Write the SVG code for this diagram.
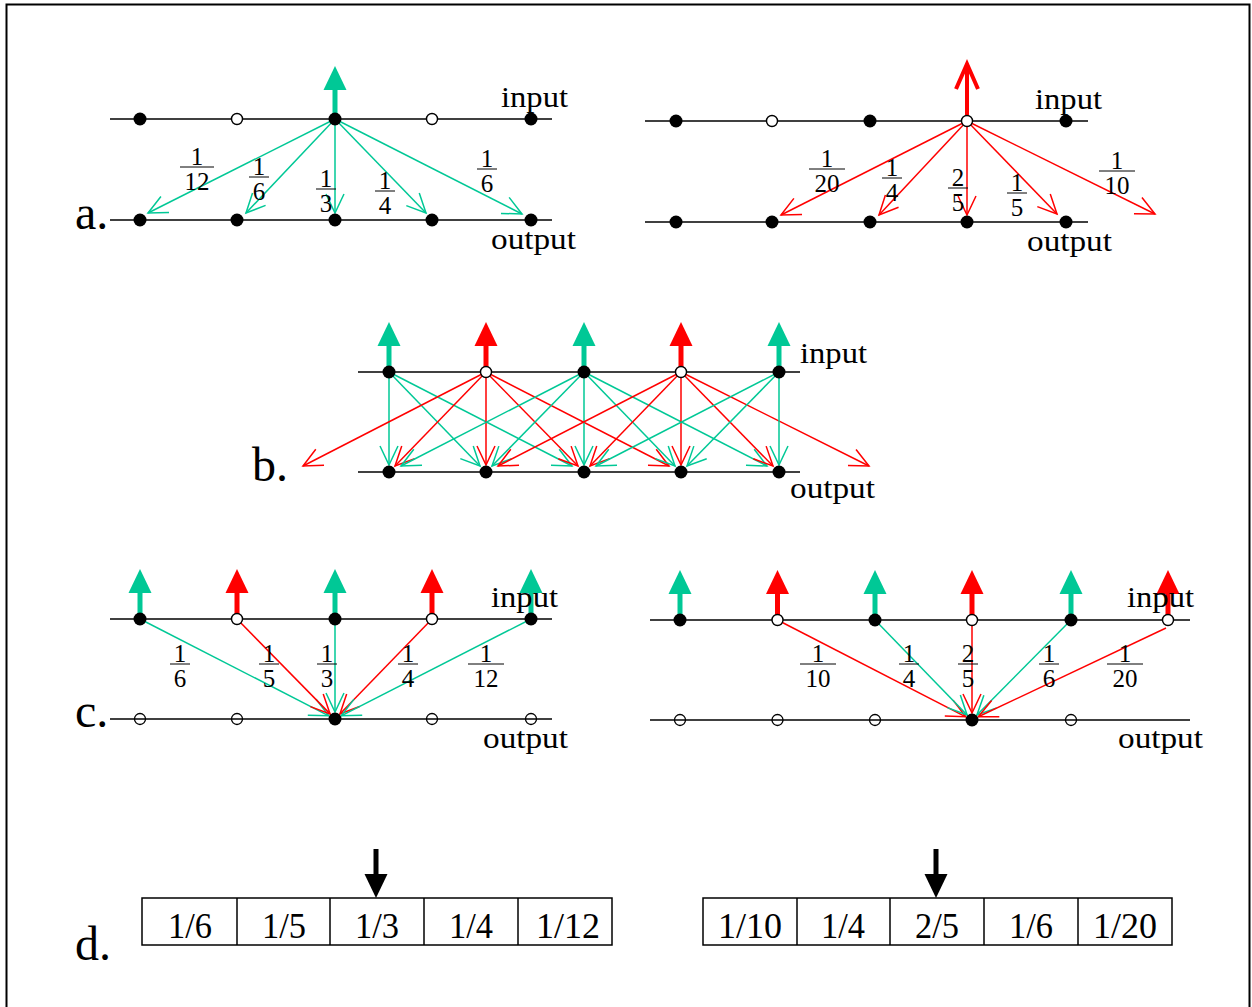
<svg xmlns="http://www.w3.org/2000/svg" width="1252" height="1007" viewBox="0 0 1252 1007">
<style>
.ax{stroke:#000;stroke-width:1.5;fill:none}
.f{fill:#000}
.o{fill:#fff;stroke:#000;stroke-width:1.4}
.on{fill:none;stroke:#000;stroke-width:1.3}
.g{stroke:#00c896;stroke-width:1.5;fill:none;marker-end:url(#vg)}
.r{stroke:#ff0000;stroke-width:1.5;fill:none;marker-end:url(#vr)}
.tg{stroke:#00c896;stroke-width:5;marker-end:url(#hg)}
.tr{stroke:#ff0000;stroke-width:5;marker-end:url(#hr)}
.tk{stroke:#000;stroke-width:5;marker-end:url(#hk)}
text{font-family:"Liberation Serif","Times New Roman",serif;fill:#000}
.fr{font-size:25px;text-anchor:middle}
.lb{font-size:29px}
.sec{font-size:48px}
.cell{font-size:36px;text-anchor:middle}
.bar{stroke:#000;stroke-width:1}
</style>
<defs>
<marker id="vg" markerUnits="userSpaceOnUse" viewBox="-24 -12 26 24" refX="0" refY="0" markerWidth="26" markerHeight="24" orient="auto" overflow="visible"><path d="M-19,-9 L0,0 L-19,9" fill="none" stroke="#00c896" stroke-width="1.5"/></marker>
<marker id="vr" markerUnits="userSpaceOnUse" viewBox="-24 -12 26 24" refX="0" refY="0" markerWidth="26" markerHeight="24" orient="auto" overflow="visible"><path d="M-19,-9 L0,0 L-19,9" fill="none" stroke="#ff0000" stroke-width="1.5"/></marker>
<marker id="hg" markerUnits="userSpaceOnUse" viewBox="0 -12 24 24" refX="0" refY="0" markerWidth="24" markerHeight="24" orient="auto" overflow="visible"><path d="M0,-11.5 L24,0 L0,11.5 Z" fill="#00c896"/></marker>
<marker id="hr" markerUnits="userSpaceOnUse" viewBox="0 -12 24 24" refX="0" refY="0" markerWidth="24" markerHeight="24" orient="auto" overflow="visible"><path d="M0,-11.5 L24,0 L0,11.5 Z" fill="#ff0000"/></marker>
<marker id="hk" markerUnits="userSpaceOnUse" viewBox="0 -12 24 24" refX="0" refY="0" markerWidth="24" markerHeight="24" orient="auto" overflow="visible"><path d="M0,-11.5 L24,0 L0,11.5 Z" fill="#000"/></marker>
<marker id="or" markerUnits="userSpaceOnUse" viewBox="-30 -15 32 30" refX="0" refY="0" markerWidth="32" markerHeight="30" orient="auto" overflow="visible"><path d="M-25,-11 L0,0 L-25,11" fill="none" stroke="#ff0000" stroke-width="4"/></marker>
</defs>

<rect x="6.5" y="4.5" width="1243" height="1010" fill="none" stroke="#000" stroke-width="2"/>

<g id="section-labels">
<text class="sec" x="75" y="229">a.</text>
<text class="sec" x="252" y="481">b.</text>
<text class="sec" x="75" y="727">c.</text>
<text class="sec" x="75" y="960">d.</text>
</g>

<g id="axes">
<line class="ax" x1="110" y1="119" x2="552" y2="119"/>
<line class="ax" x1="110" y1="220" x2="552" y2="220"/>
<line class="ax" x1="645" y1="121" x2="1088" y2="121"/>
<line class="ax" x1="645" y1="222" x2="1088" y2="222"/>
<line class="ax" x1="358" y1="372" x2="800" y2="372"/>
<line class="ax" x1="358" y1="472" x2="800" y2="472"/>
<line class="ax" x1="110" y1="619" x2="552" y2="619"/>
<line class="ax" x1="110" y1="719" x2="552" y2="719"/>
<line class="ax" x1="650" y1="620" x2="1190" y2="620"/>
<line class="ax" x1="650" y1="720" x2="1190" y2="720"/>
</g>

<g id="connectors">
<line class="tg" x1="335" y1="119" x2="335" y2="90"/>
<line class="g" x1="335" y1="119" x2="148" y2="213"/>
<line class="g" x1="335" y1="119" x2="246" y2="213"/>
<line class="g" x1="335" y1="119" x2="335" y2="213"/>
<line class="g" x1="335" y1="119" x2="426" y2="213"/>
<line class="g" x1="335" y1="119" x2="522" y2="214"/>
<line stroke="#ff0000" stroke-width="4" x1="967" y1="121" x2="967" y2="64" marker-end="url(#or)"/>
<line class="r" x1="967" y1="121" x2="781" y2="215"/>
<line class="r" x1="967" y1="121" x2="879" y2="215"/>
<line class="r" x1="967" y1="121" x2="967" y2="215"/>
<line class="r" x1="967" y1="121" x2="1057" y2="214"/>
<line class="r" x1="967" y1="121" x2="1155" y2="214"/>
<line class="tg" x1="389" y1="372" x2="389" y2="346"/>
<line class="tr" x1="486" y1="372" x2="486" y2="346"/>
<line class="tg" x1="584" y1="372" x2="584" y2="346"/>
<line class="tr" x1="681" y1="372" x2="681" y2="346"/>
<line class="tg" x1="779" y1="372" x2="779" y2="346"/>
<line class="g" x1="389" y1="372" x2="389" y2="465"/>
<line class="g" x1="389" y1="372" x2="480" y2="466"/>
<line class="g" x1="389" y1="372" x2="572" y2="466"/>
<line class="r" x1="486" y1="372" x2="303" y2="466"/>
<line class="r" x1="486" y1="372" x2="395" y2="466"/>
<line class="r" x1="486" y1="372" x2="486" y2="465"/>
<line class="r" x1="486" y1="372" x2="578" y2="466"/>
<line class="r" x1="486" y1="372" x2="669" y2="466"/>
<line class="g" x1="584" y1="372" x2="401" y2="466"/>
<line class="g" x1="584" y1="372" x2="492" y2="466"/>
<line class="g" x1="584" y1="372" x2="584" y2="465"/>
<line class="g" x1="584" y1="372" x2="675" y2="466"/>
<line class="g" x1="584" y1="372" x2="767" y2="466"/>
<line class="r" x1="681" y1="372" x2="498" y2="466"/>
<line class="r" x1="681" y1="372" x2="590" y2="466"/>
<line class="r" x1="681" y1="372" x2="681" y2="465"/>
<line class="r" x1="681" y1="372" x2="773" y2="466"/>
<line class="r" x1="681" y1="372" x2="869" y2="466"/>
<line class="g" x1="779" y1="372" x2="596" y2="466"/>
<line class="g" x1="779" y1="372" x2="687" y2="466"/>
<line class="g" x1="779" y1="372" x2="779" y2="465"/>
<line class="tg" x1="140" y1="619" x2="140" y2="593"/>
<line class="tr" x1="237" y1="619" x2="237" y2="593"/>
<line class="tg" x1="335" y1="619" x2="335" y2="593"/>
<line class="tr" x1="432" y1="619" x2="432" y2="593"/>
<line class="tg" x1="531" y1="619" x2="531" y2="593"/>
<line class="g" x1="140" y1="619" x2="328.8" y2="715.8"/>
<line class="r" x1="237" y1="619" x2="330.1" y2="713.9"/>
<line class="g" x1="335" y1="619" x2="335" y2="712"/>
<line class="r" x1="432" y1="619" x2="339.9" y2="713.9"/>
<line class="g" x1="531" y1="619" x2="341.2" y2="715.8"/>
<line class="tg" x1="680" y1="620" x2="680" y2="594"/>
<line class="tr" x1="777.5" y1="620" x2="777.5" y2="594"/>
<line class="tg" x1="875" y1="620" x2="875" y2="594"/>
<line class="tr" x1="972" y1="620" x2="972" y2="594"/>
<line class="tg" x1="1071" y1="620" x2="1071" y2="594"/>
<line class="tr" x1="1168" y1="620" x2="1168" y2="594"/>
<line class="r" x1="777.5" y1="620" x2="965.8" y2="716.8"/>
<line class="g" x1="875" y1="620" x2="967.1" y2="715"/>
<line class="r" x1="972" y1="620" x2="972" y2="713"/>
<line class="g" x1="1071" y1="620" x2="976.9" y2="715"/>
<line class="r" x1="1166" y1="628" x2="978.3" y2="716.8"/>
<line class="tk" x1="376" y1="849" x2="376" y2="874"/>
<line class="tk" x1="936" y1="849" x2="936" y2="874"/>
</g>

<g id="nodes-a-left">
<circle class="f" cx="140" cy="119" r="6.5"/><circle class="o" cx="237" cy="119" r="5.5"/><circle class="f" cx="335" cy="119" r="6.5"/><circle class="o" cx="432" cy="119" r="5.5"/><circle class="f" cx="531" cy="119" r="6.5"/>
<circle class="f" cx="140" cy="220" r="6.5"/><circle class="f" cx="237" cy="220" r="6.5"/><circle class="f" cx="335" cy="220" r="6.5"/><circle class="f" cx="432" cy="220" r="6.5"/><circle class="f" cx="531" cy="220" r="6.5"/>
</g>
<g id="nodes-a-right">
<circle class="f" cx="676" cy="121" r="6.5"/><circle class="o" cx="772" cy="121" r="5.5"/><circle class="f" cx="870" cy="121" r="6.5"/><circle class="o" cx="967" cy="121" r="5.5"/><circle class="f" cx="1066" cy="121" r="6.5"/>
<circle class="f" cx="676" cy="222" r="6.5"/><circle class="f" cx="772" cy="222" r="6.5"/><circle class="f" cx="870" cy="222" r="6.5"/><circle class="f" cx="967" cy="222" r="6.5"/><circle class="f" cx="1066" cy="222" r="6.5"/>
</g>
<g id="nodes-b">
<circle class="f" cx="389" cy="372" r="6.5"/><circle class="o" cx="486" cy="372" r="5.5"/><circle class="f" cx="584" cy="372" r="6.5"/><circle class="o" cx="681" cy="372" r="5.5"/><circle class="f" cx="779" cy="372" r="6.5"/>
<circle class="f" cx="389" cy="472" r="6.5"/><circle class="f" cx="486" cy="472" r="6.5"/><circle class="f" cx="584" cy="472" r="6.5"/><circle class="f" cx="681" cy="472" r="6.5"/><circle class="f" cx="779" cy="472" r="6.5"/>
</g>
<g id="nodes-c-left">
<circle class="f" cx="140" cy="619" r="6.5"/><circle class="o" cx="237" cy="619" r="5.5"/><circle class="f" cx="335" cy="619" r="6.5"/><circle class="o" cx="432" cy="619" r="5.5"/><circle class="f" cx="531" cy="619" r="6.5"/>
<circle class="on" cx="140" cy="719" r="5.5"/><circle class="on" cx="237" cy="719" r="5.5"/><circle class="f" cx="335" cy="719" r="6.5"/><circle class="on" cx="432" cy="719" r="5.5"/><circle class="on" cx="531" cy="719" r="5.5"/>
</g>
<g id="nodes-c-right">
<circle class="f" cx="680" cy="620" r="6.5"/><circle class="o" cx="777.5" cy="620" r="5.5"/><circle class="f" cx="875" cy="620" r="6.5"/><circle class="o" cx="972" cy="620" r="5.5"/><circle class="f" cx="1071" cy="620" r="6.5"/><circle class="o" cx="1168" cy="620" r="5.5"/>
<circle class="on" cx="680" cy="720" r="5.5"/><circle class="on" cx="777.5" cy="720" r="5.5"/><circle class="on" cx="875" cy="720" r="5.5"/><circle class="f" cx="972" cy="720" r="6.5"/><circle class="on" cx="1071" cy="720" r="5.5"/>
</g>

<g id="labels">
<text class="lb" x="501" y="107" textLength="67" lengthAdjust="spacingAndGlyphs">input</text>
<text class="lb" x="491" y="249" textLength="85" lengthAdjust="spacingAndGlyphs">output</text>
<text class="lb" x="1035" y="109" textLength="67" lengthAdjust="spacingAndGlyphs">input</text>
<text class="lb" x="1027" y="251" textLength="85" lengthAdjust="spacingAndGlyphs">output</text>
<text class="lb" x="800" y="363" textLength="67" lengthAdjust="spacingAndGlyphs">input</text>
<text class="lb" x="790" y="498" textLength="85" lengthAdjust="spacingAndGlyphs">output</text>
<text class="lb" x="491" y="607" textLength="67" lengthAdjust="spacingAndGlyphs">input</text>
<text class="lb" x="483" y="748" textLength="85" lengthAdjust="spacingAndGlyphs">output</text>
<text class="lb" x="1127" y="607" textLength="67" lengthAdjust="spacingAndGlyphs">input</text>
<text class="lb" x="1118" y="748" textLength="85" lengthAdjust="spacingAndGlyphs">output</text>
</g>

<g id="fractions">
<text class="fr" x="197" y="164.5">1</text><line class="bar" x1="180" y1="167" x2="214" y2="167"/><text class="fr" x="197" y="190">12</text>
<text class="fr" x="259" y="174.5">1</text><line class="bar" x1="249" y1="177" x2="269" y2="177"/><text class="fr" x="259" y="200">6</text>
<text class="fr" x="326" y="186.5">1</text><line class="bar" x1="316" y1="189" x2="336" y2="189"/><text class="fr" x="326" y="212">3</text>
<text class="fr" x="385" y="188.5">1</text><line class="bar" x1="375" y1="191" x2="395" y2="191"/><text class="fr" x="385" y="214">4</text>
<text class="fr" x="487" y="166.5">1</text><line class="bar" x1="477" y1="169" x2="497" y2="169"/><text class="fr" x="487" y="192">6</text>

<text class="fr" x="827" y="166.5">1</text><line class="bar" x1="809" y1="169" x2="845" y2="169"/><text class="fr" x="827" y="192">20</text>
<text class="fr" x="892" y="175.5">1</text><line class="bar" x1="882" y1="178" x2="902" y2="178"/><text class="fr" x="892" y="201">4</text>
<text class="fr" x="958" y="185.5">2</text><line class="bar" x1="948" y1="188" x2="968" y2="188"/><text class="fr" x="958" y="211">5</text>
<text class="fr" x="1017" y="190.5">1</text><line class="bar" x1="1007" y1="193" x2="1027" y2="193"/><text class="fr" x="1017" y="216">5</text>
<text class="fr" x="1117" y="168.5">1</text><line class="bar" x1="1099" y1="171" x2="1135" y2="171"/><text class="fr" x="1117" y="194">10</text>

<text class="fr" x="180" y="661.5">1</text><line class="bar" x1="170" y1="664" x2="190" y2="664"/><text class="fr" x="180" y="687">6</text>
<text class="fr" x="269" y="661.5">1</text><line class="bar" x1="259" y1="664" x2="279" y2="664"/><text class="fr" x="269" y="687">5</text>
<text class="fr" x="327" y="661.5">1</text><line class="bar" x1="317" y1="664" x2="337" y2="664"/><text class="fr" x="327" y="687">3</text>
<text class="fr" x="408" y="661.5">1</text><line class="bar" x1="398" y1="664" x2="418" y2="664"/><text class="fr" x="408" y="687">4</text>
<text class="fr" x="486" y="661.5">1</text><line class="bar" x1="468" y1="664" x2="504" y2="664"/><text class="fr" x="486" y="687">12</text>

<text class="fr" x="818" y="661.5">1</text><line class="bar" x1="800" y1="664" x2="836" y2="664"/><text class="fr" x="818" y="687">10</text>
<text class="fr" x="909" y="661.5">1</text><line class="bar" x1="899" y1="664" x2="919" y2="664"/><text class="fr" x="909" y="687">4</text>
<text class="fr" x="968" y="661.5">2</text><line class="bar" x1="958" y1="664" x2="978" y2="664"/><text class="fr" x="968" y="687">5</text>
<text class="fr" x="1049" y="661.5">1</text><line class="bar" x1="1039" y1="664" x2="1059" y2="664"/><text class="fr" x="1049" y="687">6</text>
<text class="fr" x="1125" y="661.5">1</text><line class="bar" x1="1107" y1="664" x2="1143" y2="664"/><text class="fr" x="1125" y="687">20</text>
</g>

<g id="table-left">
<rect x="142" y="898" width="470" height="47" fill="#fff" stroke="#000" stroke-width="1.5"/>
<line class="ax" x1="237" y1="898" x2="237" y2="945"/><line class="ax" x1="330" y1="898" x2="330" y2="945"/><line class="ax" x1="424" y1="898" x2="424" y2="945"/><line class="ax" x1="518" y1="898" x2="518" y2="945"/>
<text class="cell" x="190" y="938" textLength="44" lengthAdjust="spacingAndGlyphs">1/6</text><text class="cell" x="284" y="938" textLength="44" lengthAdjust="spacingAndGlyphs">1/5</text><text class="cell" x="377" y="938" textLength="44" lengthAdjust="spacingAndGlyphs">1/3</text><text class="cell" x="471" y="938" textLength="44" lengthAdjust="spacingAndGlyphs">1/4</text><text class="cell" x="568" y="938" textLength="64" lengthAdjust="spacingAndGlyphs">1/12</text>
</g>
<g id="table-right">
<rect x="703" y="898" width="469" height="47" fill="#fff" stroke="#000" stroke-width="1.5"/>
<line class="ax" x1="797" y1="898" x2="797" y2="945"/><line class="ax" x1="890" y1="898" x2="890" y2="945"/><line class="ax" x1="984" y1="898" x2="984" y2="945"/><line class="ax" x1="1078" y1="898" x2="1078" y2="945"/>
<text class="cell" x="750" y="938" textLength="64" lengthAdjust="spacingAndGlyphs">1/10</text><text class="cell" x="843" y="938" textLength="44" lengthAdjust="spacingAndGlyphs">1/4</text><text class="cell" x="937" y="938" textLength="44" lengthAdjust="spacingAndGlyphs">2/5</text><text class="cell" x="1031" y="938" textLength="44" lengthAdjust="spacingAndGlyphs">1/6</text><text class="cell" x="1125" y="938" textLength="64" lengthAdjust="spacingAndGlyphs">1/20</text>
</g>
</svg>
